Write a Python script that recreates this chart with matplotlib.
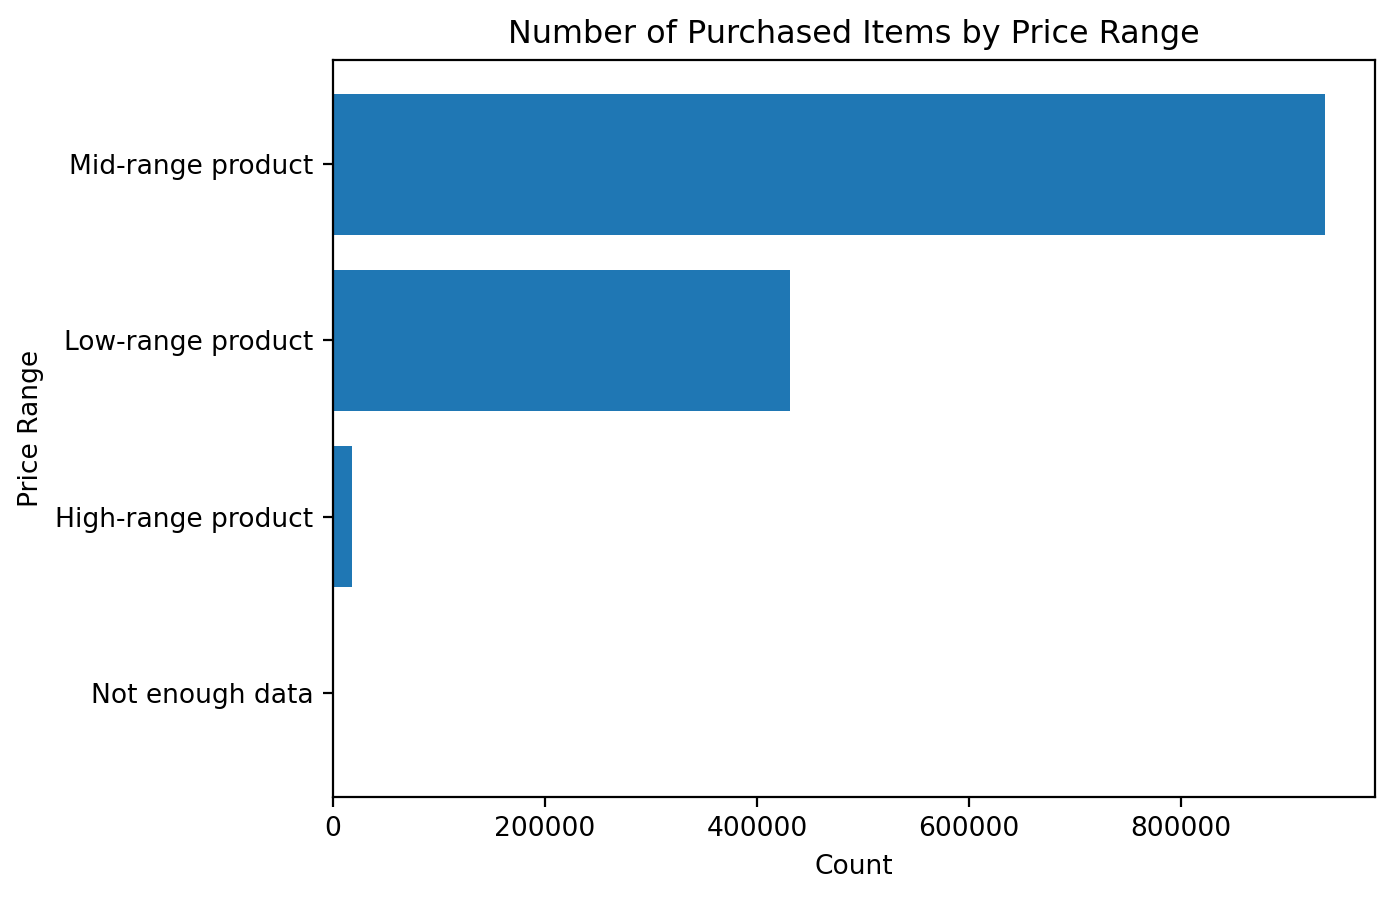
import matplotlib
matplotlib.use("Agg")
import matplotlib.pyplot as plt

# Price range categories and item counts (bottom to top)
categories = ["Not enough data", "High-range product", "Low-range product", "Mid-range product"]
counts = [60, 17900, 431000, 936000]

plt.rcParams["font.size"] = 9.55

fig, ax = plt.subplots(figsize=(1393 / 200, 898 / 200))
ax.barh(categories, counts, color="#1f77b4")
ax.set_title("Number of Purchased Items by Price Range")
ax.set_xlabel("Count")
ax.set_ylabel("Price Range")
fig.subplots_adjust(left=333 / 1393, right=1375 / 1393, top=1 - 60 / 898, bottom=1 - 797 / 898)
plt.savefig("out.png", dpi=200)
